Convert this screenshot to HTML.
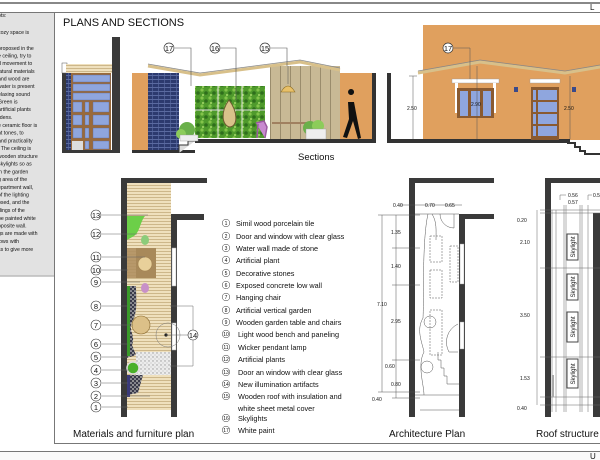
<!DOCTYPE html>
<html><head><meta charset="utf-8"><style>
html,body{margin:0;padding:0;background:#fff;width:600px;height:460px;overflow:hidden}
svg{display:block}
text{font-family:"Liberation Sans",sans-serif;fill:#111}
</style></head><body>
<svg width="600" height="460" viewBox="0 0 600 460" xmlns="http://www.w3.org/2000/svg">
<defs>
<pattern id="wood" width="4" height="3" patternUnits="userSpaceOnUse"><rect width="4" height="3" fill="#efe0bd"/><rect y="2" width="4" height="1" fill="#cdb78a"/></pattern>
<pattern id="brick" width="6" height="4" patternUnits="userSpaceOnUse"><rect width="6" height="4" fill="#2c3a6e"/><rect y="3" width="6" height="1" fill="#5a6aa0"/><rect x="2" width="1" height="3" fill="#4a5a90"/></pattern>
<pattern id="green" width="8" height="8" patternUnits="userSpaceOnUse"><rect width="8" height="8" fill="#4f9a2c"/><circle cx="2" cy="2" r="1.6" fill="#83c44a"/><circle cx="6" cy="5" r="1.8" fill="#2f6e1c"/><circle cx="3" cy="7" r="1" fill="#a6d86a"/></pattern>
<pattern id="panel" width="10" height="10" patternUnits="userSpaceOnUse"><rect width="10" height="10" fill="#c8b995"/><rect width="1" height="10" fill="#9a8c6c"/></pattern>
<pattern id="stone" width="4" height="4" patternUnits="userSpaceOnUse"><rect width="4" height="4" fill="#ececec"/><circle cx="1" cy="1" r=".7" fill="#999"/><circle cx="3" cy="3" r=".6" fill="#bbb"/></pattern>
<pattern id="gravel" width="4" height="4" patternUnits="userSpaceOnUse"><rect width="4" height="4" fill="#3a3a4a"/><circle cx="1" cy="1" r="1" fill="#aaa"/><circle cx="3" cy="3" r=".8" fill="#ddd"/></pattern>
</defs>

<!-- frame -->
<rect x="0" y="2" width="600" height="2" fill="#888"/>
<line x1="0" y1="12.5" x2="600" y2="12.5" stroke="#777" stroke-width="1"/>
<text x="590" y="10" font-size="8">L</text>
<rect x="0" y="13" width="54" height="263" fill="#e2e2e2"/>
<line x1="54.5" y1="13" x2="54.5" y2="443" stroke="#777"/>
<line x1="0" y1="276" x2="54" y2="276" stroke="#bbb" stroke-width="1.5"/>
<line x1="54" y1="443.5" x2="600" y2="443.5" stroke="#777"/>
<line x1="0" y1="451.5" x2="600" y2="451.5" stroke="#777"/>
<rect x="0" y="452" width="600" height="8" fill="#fafafa"/>
<text x="590" y="459" font-size="8">U</text>

<g font-size="5.2">
<text x="-2" y="17">ots:</text>
<text x="-2" y="34">cozy space is</text>
<text x="-2" y="50">proposed in the</text>
<text x="-2" y="57.5">e ceiling, try to</text>
<text x="-2" y="65">d movement to</text>
<text x="-2" y="73">latural materials</text>
<text x="-2" y="80.5">and wood are</text>
<text x="-2" y="88">water is present</text>
<text x="-2" y="96">elaxing sound</text>
<text x="-2" y="103.5">  Green is</text>
<text x="-2" y="111">  artificial plants</text>
<text x="-2" y="119">rdens.</text>
<text x="-2" y="127">e ceramic floor is</text>
<text x="-2" y="134.5">nt tones, to</text>
<text x="-2" y="142.5"> and practicality</text>
<text x="-2" y="150">. The ceiling is</text>
<text x="-2" y="158">wooden structure</text>
<text x="-2" y="165.5">skylights so as</text>
<text x="-2" y="173.5"> in the garden</text>
<text x="-2" y="181">g area of the</text>
<text x="-2" y="189">epartment wall,</text>
<text x="-2" y="196.5"> of the lighting</text>
<text x="-2" y="204">osed, and the</text>
<text x="-2" y="212">dings of the</text>
<text x="-2" y="220"> be painted white</text>
<text x="-2" y="227.5">pposite wall.</text>
<text x="-2" y="235">gs are made with</text>
<text x="-2" y="243">lows with</text>
<text x="-2" y="251">ss to give more</text>
</g>

<text x="63" y="26" font-size="11">PLANS AND SECTIONS</text>

<!-- left elevation -->
<rect x="112" y="37" width="8" height="116" fill="#3a3a3a"/>
<rect x="62" y="73" width="4" height="80" fill="#3a3a3a"/>
<rect x="62" y="150" width="58" height="3" fill="#3a3a3a"/>
<rect x="62" y="63" width="5" height="10" fill="#fff" stroke="#555" stroke-width=".5"/>
<rect x="66" y="64" width="46" height="9" fill="url(#wood)"/>
<rect x="66" y="73" width="5" height="77" fill="url(#brick)"/>
<rect x="71" y="73" width="40" height="77" fill="#9a6a3a"/>
<g fill="#8fa6de" stroke="#5a6aa0" stroke-width=".4">
<rect x="73" y="75" width="37" height="7"/><rect x="73" y="84" width="37" height="7"/><rect x="73" y="93" width="37" height="7"/>
<rect x="73" y="102" width="9" height="10"/><rect x="85" y="102" width="4" height="10"/><rect x="93" y="102" width="16" height="10"/>
<rect x="73" y="115" width="9" height="10"/><rect x="85" y="115" width="4" height="10"/><rect x="93" y="115" width="16" height="10"/>
<rect x="73" y="128" width="9" height="10"/><rect x="85" y="128" width="4" height="10"/><rect x="93" y="128" width="16" height="10"/>
<rect x="85" y="141" width="4" height="8"/><rect x="93" y="141" width="16" height="8"/>
</g>
<rect x="72" y="141" width="11" height="9" fill="#ddd"/>

<!-- middle section -->
<rect x="132" y="73" width="16" height="80" fill="#e0a05e"/>
<rect x="148" y="73" width="31" height="80" fill="url(#brick)"/>
<rect x="132" y="150" width="63" height="3" fill="#333"/>
<polyline points="179,153 179,145 188,145 188,141 195,141" fill="#ddd" stroke="#333" stroke-width="1"/>
<rect x="195" y="86" width="70" height="52" fill="url(#green)"/>
<g stroke="#ddd" stroke-width="1"><line x1="218" y1="86" x2="218" y2="138"/><line x1="242" y1="86" x2="242" y2="138"/><line x1="195" y1="110" x2="265" y2="110"/></g>
<path d="M229,100 C220,112 222,126 230,127 C238,126 238,112 229,100Z" fill="#d9c28a" stroke="#6b5a30" stroke-width="1"/>
<rect x="270" y="66" width="70" height="74" fill="url(#panel)"/>
<path d="M281,92 Q288,80 295,92Z" fill="#e8c068" stroke="#8a6a20" stroke-width=".6"/>
<line x1="288" y1="66" x2="288" y2="84" stroke="#555" stroke-width=".5"/>
<rect x="272" y="122" width="50" height="2" fill="#a08060"/>
<path d="M256,123 l8,-2 l3,6 l-2,11 M258,124 l-1,14" fill="#c88ad0" stroke="#9a5aa0" stroke-width="1.5"/>
<rect x="340" y="73" width="32" height="67" fill="#e0a05e"/>
<rect x="372" y="73" width="4" height="70" fill="#333"/>
<rect x="195" y="139" width="181" height="4" fill="#333"/>
<circle cx="187" cy="130" r="8" fill="#6ab04a"/><circle cx="181" cy="134" r="5" fill="#8ccc5a"/>
<rect x="180" y="135" width="18" height="6" fill="#eee" stroke="#999" stroke-width=".4"/>
<circle cx="310" cy="128" r="7" fill="#6ab04a"/><circle cx="318" cy="126" r="6" fill="#8ccc5a"/>
<rect x="306" y="129" width="20" height="10" fill="#eee" stroke="#999" stroke-width=".4"/>
<path d="M351,95 a3,3 0 1 1 .1,0 M348,102 l6,0 l3,16 l4,20 l-3,1 l-5,-18 l-6,17 l-4,-1 l6,-18 Z" fill="#111"/>
<polyline points="148,66 200,75 300,62 340,70" fill="none" stroke="#d8c08a" stroke-width="3"/>
<polyline points="148,64 200,73 300,60 340,68" fill="none" stroke="#888" stroke-width=".8"/>
<g stroke="#555" stroke-width=".6" fill="none">
<polyline points="175,48 191,48 191,86"/><polyline points="221,48 236,48 236,100"/><polyline points="271,48 287,48 287,66"/>
</g>
<g font-size="7.5" text-anchor="middle">
<circle cx="169" cy="48" r="5" fill="#fff" stroke="#333" stroke-width=".7"/><text x="169" y="51">17</text>
<circle cx="215" cy="48" r="5" fill="#fff" stroke="#333" stroke-width=".7"/><text x="215" y="51">16</text>
<circle cx="265" cy="48" r="5" fill="#fff" stroke="#333" stroke-width=".7"/><text x="265" y="51">15</text>
</g>
<text x="298" y="160" font-size="9.5">Sections</text>

<!-- right section -->
<rect x="423" y="25" width="177" height="115" fill="#e0a05e"/>
<rect x="387" y="73" width="4" height="70" fill="#333"/>
<rect x="387" y="139" width="183" height="4" fill="#333"/>
<polyline points="567,143 575,143 575,147 580,147 580,151 585,151 585,154 600,154" fill="none" stroke="#333" stroke-width="2"/>
<polyline points="418,73 480,62 565,73 600,67" fill="none" stroke="#d8c08a" stroke-width="3"/>
<polyline points="418,71 480,60 565,71 600,65" fill="none" stroke="#888" stroke-width=".8"/>
<rect x="452" y="79" width="47" height="4" fill="#fff" stroke="#999" stroke-width=".4"/>
<rect x="455" y="83" width="3" height="30" fill="#fff"/><rect x="493" y="83" width="3" height="30" fill="#fff"/>
<rect x="457" y="88" width="37" height="30" fill="#8a5a30"/>
<rect x="460" y="91" width="8" height="25" fill="#8fa6de"/><rect x="471" y="91" width="9" height="25" fill="#8fa6de"/><rect x="483" y="91" width="8" height="25" fill="#8fa6de"/>
<rect x="530" y="79" width="30" height="4" fill="#fff" stroke="#999" stroke-width=".4"/>
<rect x="531" y="87" width="28" height="53" fill="#8a5a30"/>
<g fill="#8fa6de"><rect x="533" y="90" width="3" height="10"/><rect x="538" y="90" width="19" height="10"/><rect x="533" y="102" width="3" height="10"/><rect x="538" y="102" width="19" height="10"/><rect x="533" y="114" width="3" height="10"/><rect x="538" y="114" width="19" height="10"/><rect x="533" y="126" width="3" height="10"/><rect x="538" y="126" width="19" height="10"/></g>
<rect x="514" y="87" width="4" height="5" fill="#3a4a8a"/><rect x="572" y="87" width="4" height="5" fill="#3a4a8a"/>
<g stroke="#555" stroke-width=".5" fill="none">
<line x1="413" y1="76" x2="413" y2="139"/><line x1="409" y1="76" x2="417" y2="76"/>
<line x1="477" y1="66" x2="477" y2="139"/>
<line x1="570" y1="76" x2="570" y2="139"/>
<polyline points="454,48 470,48 470,79"/>
</g>
<g font-size="5">
<text x="407" y="110">2.50</text><text x="471" y="106">2.90</text><text x="564" y="110">2.50</text>
</g>
<circle cx="448" cy="48" r="5" fill="#fff" stroke="#333" stroke-width=".7"/><text x="448" y="51" font-size="7.5" text-anchor="middle">17</text>

<!-- materials plan -->
<rect x="127" y="183" width="44" height="227" fill="url(#wood)"/>
<rect x="121" y="178" width="6" height="239" fill="#3a3a3a"/>
<rect x="121" y="178" width="86" height="5" fill="#3a3a3a"/>
<rect x="171" y="214" width="6" height="203" fill="#3a3a3a"/>
<rect x="171" y="214" width="33" height="6" fill="#3a3a3a"/>
<rect x="172" y="248" width="4" height="38" fill="#fff" stroke="#aaa" stroke-width=".5"/>
<rect x="172" y="323" width="4" height="27" fill="#fff" stroke="#aaa" stroke-width=".5"/>
<path d="M127,216 L145,216 C140,222 140,232 134,236 L127,240Z" fill="#6ccf48"/>
<rect x="127" y="248" width="28" height="30" fill="#b09060" opacity=".9"/>
<rect x="136" y="248" width="20" height="30" fill="#a8895a"/>
<ellipse cx="145" cy="240" rx="4" ry="5" fill="#8ccc7a"/>
<circle cx="145" cy="264" r="7" fill="#e8d09a" stroke="#a08050" stroke-width=".6"/>
<ellipse cx="145" cy="288" rx="4" ry="5" fill="#c890c8"/>
<path d="M127,286 L136,286 C136,300 138,312 132,322 C128,330 136,336 132,345 L136,355 L127,358Z" fill="url(#gravel)"/>
<rect x="127" y="286" width="3" height="70" fill="#3a9a2a"/>
<circle cx="141" cy="325" r="9" fill="#dcc088" stroke="#8a6a30" stroke-width=".6"/>
<rect x="136" y="352" width="35" height="23" fill="url(#stone)"/>
<circle cx="133" cy="368" r="6" fill="#4ab02a" stroke="#ddd" stroke-width="1.5"/>
<path d="M127,375 L143,375 L138,393 L127,395Z" fill="url(#gravel)"/>
<rect x="127" y="375" width="3" height="22" fill="#3a3a7a"/>
<circle cx="168" cy="335" r="12" fill="none" stroke="#777" stroke-width=".5"/>
<circle cx="166" cy="335" r="1.6" fill="#222"/>
<g stroke="#666" stroke-width=".5" fill="none">
<line x1="102" y1="215" x2="148" y2="215"/><line x1="102" y1="234" x2="137" y2="234"/><line x1="102" y1="257" x2="145" y2="257"/>
<line x1="102" y1="270" x2="128" y2="270"/><line x1="102" y1="282" x2="140" y2="282"/><line x1="102" y1="306" x2="128" y2="306"/>
<line x1="102" y1="325" x2="133" y2="325"/><line x1="102" y1="344" x2="128" y2="344"/><line x1="102" y1="357" x2="128" y2="357"/>
<line x1="102" y1="370" x2="130" y2="370"/><line x1="102" y1="383" x2="128" y2="383"/><line x1="102" y1="396" x2="150" y2="396"/>
<line x1="102" y1="407" x2="128" y2="407"/>
<polyline points="170,306 193,306 193,366 170,366"/><line x1="166" y1="335" x2="188" y2="335"/>
</g>
<g font-size="7.5" text-anchor="middle">
<g fill="#fff" stroke="#333" stroke-width=".6">
<circle cx="96" cy="215" r="5"/><circle cx="96" cy="234" r="5"/><circle cx="96" cy="257" r="5"/><circle cx="96" cy="270" r="5"/>
<circle cx="96" cy="282" r="5"/><circle cx="96" cy="306" r="5"/><circle cx="96" cy="325" r="5"/><circle cx="96" cy="344" r="5"/>
<circle cx="96" cy="357" r="5"/><circle cx="96" cy="370" r="5"/><circle cx="96" cy="383" r="5"/><circle cx="96" cy="396" r="5"/>
<circle cx="96" cy="407" r="5"/><circle cx="193" cy="335" r="5"/></g>
<text x="96" y="218">13</text><text x="96" y="237">12</text><text x="96" y="260">11</text><text x="96" y="273">10</text>
<text x="96" y="285">9</text><text x="96" y="309">8</text><text x="96" y="328">7</text><text x="96" y="347">6</text>
<text x="96" y="360">5</text><text x="96" y="373">4</text><text x="96" y="386">3</text><text x="96" y="399">2</text>
<text x="96" y="410">1</text><text x="193" y="338">14</text>
</g>
<text x="73" y="437" font-size="10">Materials and furniture plan</text>

<!-- legend -->
<g font-size="7.3">
<g fill="none" stroke="#333" stroke-width=".5">
<circle cx="226" cy="223" r="3.8"/><circle cx="226" cy="236" r="3.8"/><circle cx="226" cy="248" r="3.8"/><circle cx="226" cy="260" r="3.8"/>
<circle cx="226" cy="273" r="3.8"/><circle cx="226" cy="285" r="3.8"/><circle cx="226" cy="297" r="3.8"/><circle cx="226" cy="310" r="3.8"/>
<circle cx="226" cy="322" r="3.8"/><circle cx="226" cy="334" r="3.8"/><circle cx="226" cy="347" r="3.8"/><circle cx="226" cy="359" r="3.8"/>
<circle cx="226" cy="372" r="3.8"/><circle cx="226" cy="384" r="3.8"/><circle cx="226" cy="396" r="3.8"/><circle cx="226" cy="418" r="3.8"/><circle cx="226" cy="430" r="3.8"/>
</g>
<g font-size="5" text-anchor="middle">
<text x="226" y="225">1</text><text x="226" y="238">2</text><text x="226" y="250">3</text><text x="226" y="262">4</text><text x="226" y="275">5</text><text x="226" y="287">6</text><text x="226" y="299">7</text><text x="226" y="312">8</text><text x="226" y="324">9</text><text x="226" y="336">10</text><text x="226" y="349">11</text><text x="226" y="361">12</text><text x="226" y="374">13</text><text x="226" y="386">14</text><text x="226" y="398">15</text><text x="226" y="420">16</text><text x="226" y="432">17</text>
</g>
<text x="236" y="226">Simil wood porcelain tile</text>
<text x="236" y="239">Door and window with clear glass</text>
<text x="236" y="251">Water wall made of stone</text>
<text x="236" y="263">Artificial plant</text>
<text x="236" y="276">Decorative stones</text>
<text x="236" y="288">Exposed concrete low wall</text>
<text x="236" y="300">Hanging chair</text>
<text x="236" y="313">Artificial vertical garden</text>
<text x="236" y="325">Wooden garden table and chairs</text>
<text x="238" y="337">Light wood bench and paneling</text>
<text x="238" y="350">Wicker pendant lamp</text>
<text x="238" y="362">Artificial plants</text>
<text x="238" y="375">Door an window with clear glass</text>
<text x="238" y="387">New illumination artifacts</text>
<text x="238" y="399">Wooden roof with insulation and</text>
<text x="238" y="411">white sheet metal cover</text>
<text x="238" y="421">Skylights</text>
<text x="238" y="433">White paint</text>
</g>

<!-- architecture plan -->
<rect x="409" y="178" width="6" height="239" fill="#3a3a3a"/>
<rect x="409" y="178" width="85" height="5" fill="#3a3a3a"/>
<rect x="459" y="214" width="6" height="203" fill="#3a3a3a"/>
<rect x="459" y="214" width="35" height="5" fill="#3a3a3a"/>
<rect x="460" y="244" width="4" height="40" fill="#fff" stroke="#999" stroke-width=".4"/>
<rect x="460" y="322" width="4" height="27" fill="#fff" stroke="#999" stroke-width=".4"/>
<g stroke="#555" stroke-width=".5" fill="none">
<path d="M428,214 C422,240 424,300 423,318 C416,330 422,342 424,352 C417,365 424,385 424,395"/>
<path d="M432,214 C437,222 436,230 436,240"/>
<rect x="430" y="236" width="12" height="26" stroke-dasharray="2,1"/>
<rect x="430" y="270" width="12" height="28" stroke-dasharray="2,1"/>
<rect x="430" y="310" width="12" height="45" stroke-dasharray="2,1"/>
<rect x="450" y="246" width="8" height="36" stroke-dasharray="2,1"/>
<circle cx="430" cy="322" r="6"/><circle cx="427" cy="367" r="6"/>
<path d="M458,324 A20,20 0 0 0 449,352 L458,352"/>
<polyline points="438,352 438,360 441,360 441,368 444,368 444,376 447,376 447,384 459,384"/>
<path d="M440,214 A14,14 0 0 0 454,228 L454,214"/>
<line x1="415" y1="214" x2="459" y2="214"/>
<line x1="415" y1="395" x2="459" y2="395"/><line x1="420" y1="410" x2="459" y2="410"/>
<line x1="382" y1="215" x2="382" y2="392"/><line x1="396" y1="215" x2="396" y2="398"/>
<line x1="378" y1="215" x2="420" y2="215"/><line x1="392" y1="248" x2="420" y2="248"/><line x1="392" y1="285" x2="420" y2="285"/>
<line x1="392" y1="360" x2="420" y2="360"/><line x1="378" y1="392" x2="420" y2="392"/><line x1="392" y1="398" x2="420" y2="398"/>
<line x1="400" y1="205" x2="462" y2="205"/>
</g>
<g font-size="5">
<text x="393" y="207">0.40</text><text x="425" y="207">0.70</text><text x="445" y="207">0.65</text>
<text x="391" y="234">1.35</text><text x="391" y="268">1.40</text><text x="377" y="306">7.10</text><text x="391" y="323">2.95</text>
<text x="385" y="368">0.60</text><text x="391" y="386">0.80</text><text x="372" y="401">0.40</text>
</g>
<text x="389" y="437" font-size="10">Architecture Plan</text>

<!-- roof structure -->
<rect x="545" y="178" width="6" height="239" fill="#3a3a3a"/>
<rect x="545" y="178" width="55" height="5" fill="#3a3a3a"/>
<rect x="593" y="213" width="7" height="204" fill="#3a3a3a"/>
<g stroke="#666" stroke-width=".5" fill="none">
<line x1="552" y1="210" x2="552" y2="412"/><line x1="556" y1="210" x2="556" y2="412"/>
<line x1="564" y1="205" x2="564" y2="412"/><line x1="566" y1="205" x2="566" y2="412"/>
<line x1="580" y1="205" x2="580" y2="412"/><line x1="582" y1="205" x2="582" y2="412"/>
<line x1="588" y1="205" x2="588" y2="412"/>
<line x1="540" y1="210" x2="600" y2="210"/><line x1="540" y1="213" x2="600" y2="213"/>
<line x1="540" y1="268" x2="600" y2="268"/><line x1="540" y1="357" x2="600" y2="357"/>
<line x1="540" y1="397" x2="600" y2="397"/><line x1="540" y1="405" x2="600" y2="405"/>
<line x1="537" y1="210" x2="537" y2="405"/>
<polyline points="560,200 560,195 566,195"/><polyline points="588,200 588,195 592,195"/>
</g>
<rect x="552" y="375" width="2" height="22" fill="#aaa"/>
<g fill="#fff" stroke="#444" stroke-width="1">
<rect x="567" y="234" width="11" height="26"/><rect x="567" y="274" width="11" height="26"/><rect x="567" y="312" width="11" height="30"/><rect x="567" y="359" width="11" height="29"/>
</g>
<g font-size="6" text-anchor="middle">
<text transform="translate(575,247) rotate(-90)">Skylight</text>
<text transform="translate(575,287) rotate(-90)">Skylight</text>
<text transform="translate(575,327) rotate(-90)">Skylight</text>
<text transform="translate(575,374) rotate(-90)">Skylight</text>
</g>
<g font-size="5">
<text x="568" y="197">0.56</text><text x="568" y="204">0.57</text><text x="593" y="197">0.5</text>
<text x="517" y="222">0.20</text><text x="520" y="244">2.10</text><text x="520" y="317">3.50</text><text x="520" y="380">1.53</text><text x="517" y="410">0.40</text>
</g>
<text x="536" y="437" font-size="10">Roof structure</text>
</svg>
</body></html>
